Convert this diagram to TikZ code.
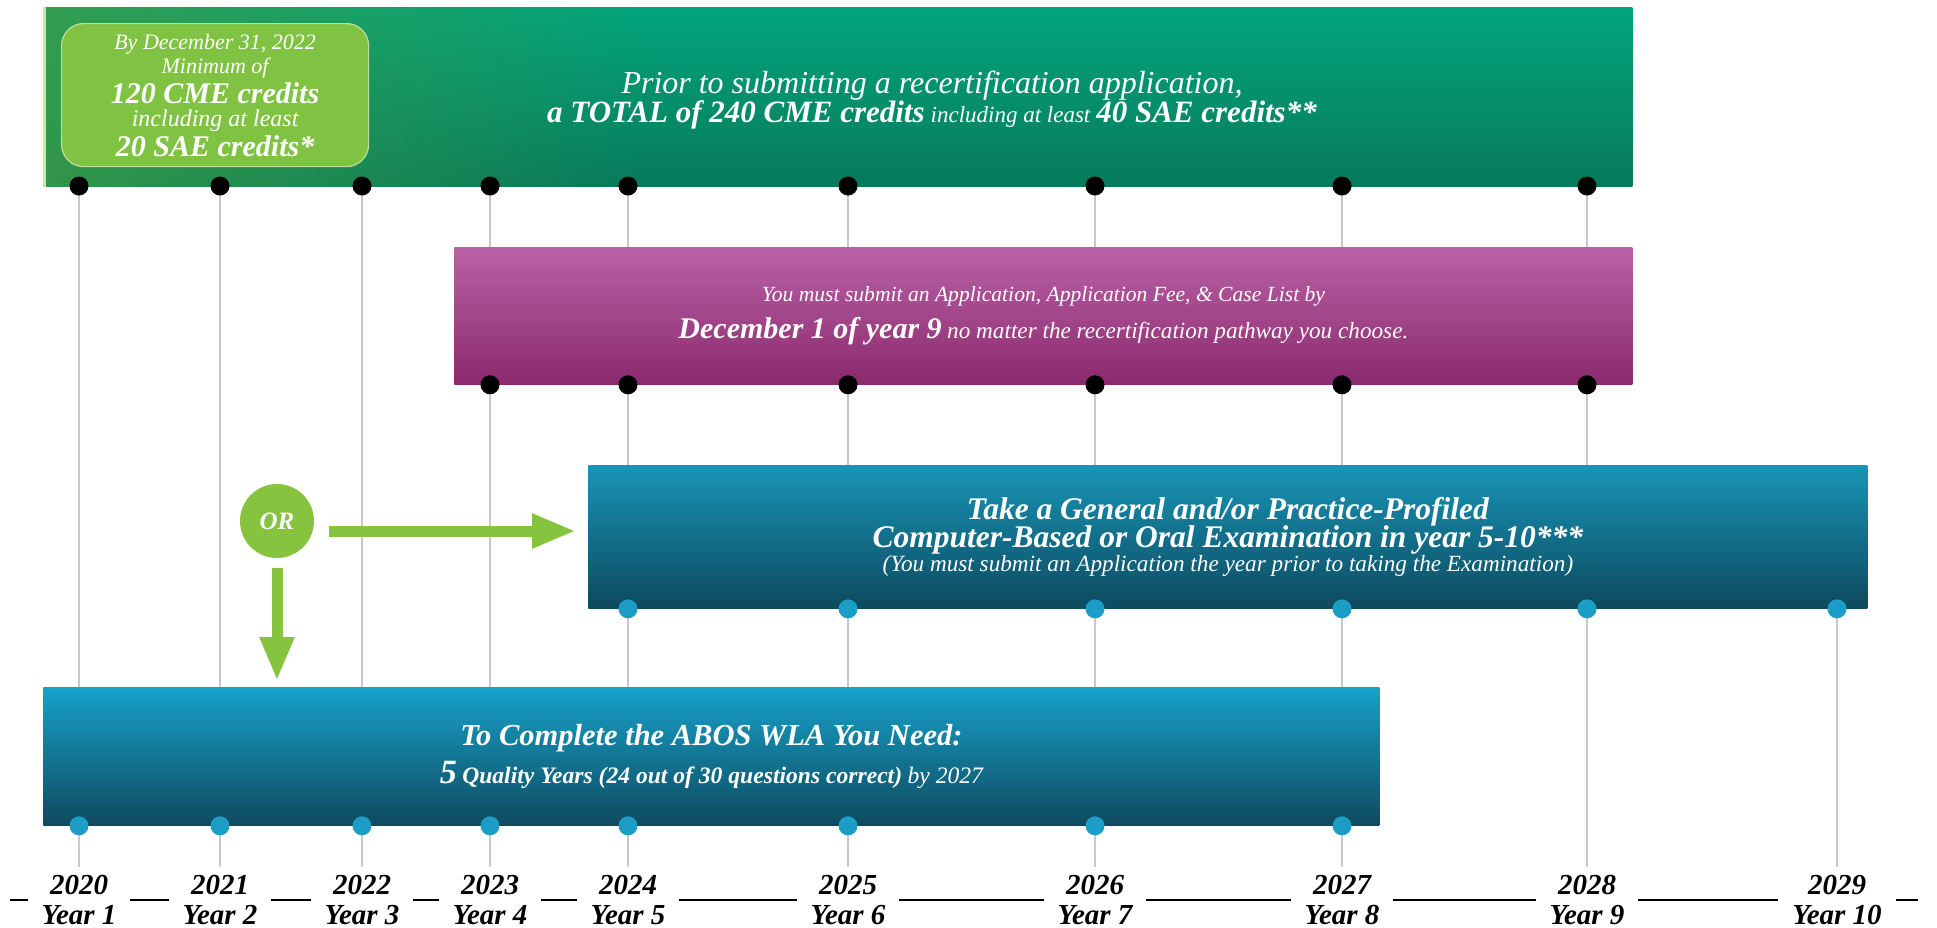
\documentclass[tikz,border=0pt]{standalone}
\usepackage{fontspec}
\setmainfont{Liberation Serif}
\usetikzlibrary{arrows.meta,fadings}

\definecolor{cmetop}{HTML}{02A57D}
\definecolor{cmebot}{HTML}{077A5B}
\definecolor{cmeleft}{HTML}{3E9C45}
\definecolor{boxgreen}{HTML}{80C242}
\definecolor{boxedge}{HTML}{BCE09A}
\definecolor{apptop}{HTML}{B961A7}
\definecolor{appbot}{HTML}{8B2A6D}
\definecolor{examtop}{HTML}{1894B7}
\definecolor{exambot}{HTML}{0D4A5E}
\definecolor{wlatop}{HTML}{17A1C9}
\definecolor{wlabot}{HTML}{0E4A5F}
\definecolor{dotblue}{HTML}{1B9DC6}
\definecolor{orgreen}{HTML}{86C440}
\definecolor{gridgray}{HTML}{C8C8C8}

\tikzset{
  bar/.style={rectangle,inner sep=0pt,anchor=north west,text=white,align=center},
  bdot/.style={circle,fill=black,inner sep=0pt,minimum size=9.5pt},
  cdot/.style={circle,fill=dotblue,inner sep=0pt,minimum size=9.5pt},
  yearlbl/.style={fill=white,inner xsep=7pt,inner ysep=1pt,align=center,
    font=\fontsize{14.5}{15}\selectfont\bfseries\itshape},
  grid/.style={draw=gridgray,line width=1pt,shorten >=3pt},
  bigarrow/.style={draw=orgreen,line width=5.5pt,-{Triangle[length=22pt,width=16pt]}},
}

\begin{document}
\lineskiplimit=-10pt
\begin{tikzpicture}[x=0.5pt,y=-0.5pt]
		\useasboundingbox (0,0) rectangle (1937,927);
		% years on the time line
		\coordinate (tl) at (10,900);
		\coordinate (tr) at (1918,900);
		\draw[line width=1pt] (tl)--(tr);
		\path
		(79,900)   node[yearlbl] (y2020) {2020\\Year 1}
		(220,900)  node[yearlbl] (y2021) {2021\\Year 2}
		(362,900)  node[yearlbl] (y2022) {2022\\Year 3}
		(490,900)  node[yearlbl] (y2023) {2023\\Year 4}
		(628,900)  node[yearlbl] (y2024) {2024\\Year 5}
		(848,900)  node[yearlbl] (y2025) {2025\\Year 6}
		(1095,900) node[yearlbl] (y2026) {2026\\Year 7}
		(1342,900) node[yearlbl] (y2027) {2027\\Year 8}
		(1587,900) node[yearlbl] (y2028) {2028\\Year 9}
		(1837,900) node[yearlbl] (y2029) {2029\\Year 10}
		;
		\foreach \yr/\x in {2020/79,2021/220,2022/362,2023/490,2024/628,2025/848,2026/1095,2027/1342,2028/1587,2029/1837}
			\coordinate (t\yr) at (\x,186);
		\foreach \yr in {2020,...,2028}
			\draw[grid] (t\yr)--(y\yr);
		% bars
		\node[bar,minimum width=794.5pt,minimum height=89.5pt,top color=cmetop,bottom color=cmebot] (cme) at (43,7) {};
		\fill[cmeleft,path fading=east,opacity=.8] (cme.north west) rectangle ([xshift=300pt]cme.south west);
		\fill[boxedge!80!white] (cme.north west) rectangle ([xshift=1.5pt]cme.south west);
		\node[bar,minimum width=153.5pt,minimum height=71.5pt,fill=boxgreen,draw=boxedge,line width=.6pt,rounded corners=11pt] (min) at (61,23) {};
		\node[text=white,align=center,font=\fontsize{11}{12}\selectfont\itshape] (mintext) at (min.center) {%
			By December 31, 2022\\
			Minimum of\\[3pt]
			{\fontsize{15}{14}\selectfont\bfseries 120 CME credits}\\[-0.5pt]
			{\fontsize{12}{11.5}\selectfont including at least}\\[3pt]
			{\fontsize{15}{14}\selectfont\bfseries 20 SAE credits*}};
		\node[text=white,align=center,font=\fontsize{12}{14.5}\selectfont\itshape] (cmetext) at (932,100) {%
			{\fontsize{16}{15}\selectfont Prior to submitting a recertification application,}\\
			{\fontsize{15.5}{15}\selectfont\bfseries a TOTAL of 240 CME credits}
			{\fontsize{11.5}{15}\selectfont including at least}
			{\fontsize{15.5}{15}\selectfont\bfseries 40 SAE credits**}};
		\node[bar,minimum width=589pt,minimum height=68.5pt,top color=apptop,bottom color=appbot,
			font=\fontsize{11}{18.5}\selectfont\itshape] (app) at (454,247) {%
			{\fontsize{10.8}{12}\selectfont You must submit an Application, Application Fee, \& Case List by}\\
			{\fontsize{15}{16}\selectfont\bfseries December 1 of year 9}
			{\fontsize{11.6}{16}\selectfont no matter the recertification pathway you choose.}};
		\node[bar,minimum width=639.5pt,minimum height=71.5pt,top color=examtop,bottom color=exambot,
			font=\fontsize{11}{14.3}\selectfont\itshape] (exam) at (588,465) {%
			{\fontsize{15.75}{14.2}\selectfont\bfseries Take a General and/or Practice-Profiled}\\
			{\fontsize{15.75}{14.2}\selectfont\bfseries Computer-Based or Oral Examination in year 5-10***}\\[-2.5pt]
			{\fontsize{11.6}{14.2}\selectfont (You must submit an Application the year prior to taking the Examination)}};
		\node[bar,minimum width=668pt,minimum height=69pt,top color=wlatop,bottom color=wlabot,
			font=\fontsize{11}{19}\selectfont\itshape] (wla) at (43,687) {%
			{\fontsize{15.25}{15}\selectfont\bfseries To Complete the ABOS WLA You Need:}\\
			{\fontsize{17}{16}\selectfont\bfseries 5}
			{\fontsize{11.8}{16}\selectfont\bfseries Quality Years (24 out of 30 questions correct)}
			{\fontsize{11.8}{16}\selectfont by 2027}};
		\draw[grid] (t2029 |- exam.south)--(y2029);
		% dots
		\foreach \yr in {2020,...,2028}
			\node[bdot] (a\yr) at (t\yr) {};
		\foreach \yr in {2023,...,2028}
			\node[bdot] (b\yr) at (t\yr |- app.south) {};
		\foreach \yr in {2024,...,2029}
			\node[cdot] (c\yr) at (t\yr |- exam.south) {};
		\foreach \yr in {2020,...,2027}
			\node[cdot] (d\yr) at (t\yr |- wla.south) {};
		% the OR choice
		\node[circle,fill=orgreen,minimum size=37pt,inner sep=0pt,text=white,
			font=\fontsize{12.5}{14}\selectfont\bfseries\itshape] (or) at (277,521) {OR};
		\draw[bigarrow,shorten <=7.5pt,shorten >=6pt] ([yshift=-5pt]or.east)--([yshift=-5pt]or.east -| exam.west);
		\draw[bigarrow,shorten <=5pt,shorten >=3pt] (or.south)--(or.south |- wla.north);
		\end{tikzpicture}
\end{document}
